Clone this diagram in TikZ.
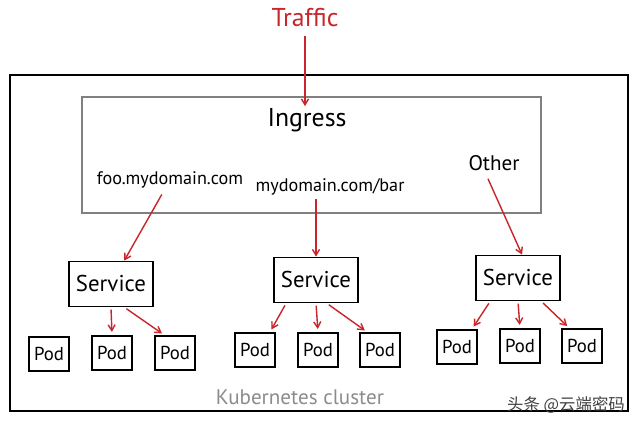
\documentclass[tikz,border=0pt]{standalone}
\usepackage{fontspec}
\setmainfont{PT Sans}
\newfontfamily\cjk{Noto Sans CJK SC}
\usetikzlibrary{calc}
\usetikzlibrary{arrows.meta}
\definecolor{trafficred}{RGB}{200,38,42}
\definecolor{labelgray}{RGB}{140,140,140}
\tikzset{
  box/.style={draw, line width=1.5pt, inner sep=0pt},
  svcbox/.style={box, minimum width=2.5cm, minimum height=1.35cm, font=\fontsize{19.5}{21}\selectfont},
  podbox/.style={box, minimum width=1.2cm, minimum height=1.0cm, font=\fontsize{16}{18}\selectfont},
  redarrow/.style={-{Straight Barb[length=5pt,width=6pt]}, line width=1.2pt, color=trafficred},
}

\begin{document}
\begin{tikzpicture}[x=0.03cm, y=-0.03cm]
\useasboundingbox (0, 0) rectangle (640, 426);
\fill [white] (0, 0) rectangle (640, 426);
\draw [line width=1.7pt] (10, 75) rectangle (628, 411);
\draw [line width=1.2pt, color=gray] (82, 97) rectangle (541, 213);

\node [font=\fontsize{22}{24}\selectfont, color=trafficred] (traffic) at (305, 18) {Traffic};
\node [font=\fontsize{22}{24}\selectfont] (ingress) at (307, 120) {Ingress};
\node [font=\fontsize{15.5}{17}\selectfont] (foo) at (170, 180) {foo.mydomain.com};
\node [font=\fontsize{15.5}{17}\selectfont] (bar) at (330, 187) {mydomain.com/bar};
\node [font=\fontsize{18}{20}\selectfont] (other) at (494, 163) {Other};
\node [font=\fontsize{18}{20}\selectfont, color=labelgray] (cluster) at (300, 397) {Kubernetes cluster};
\node [font=\cjk\fontsize{14}{16}\selectfont, color=black!75] (mark) at (566, 405) {头条 @云端密码};

\draw [redarrow, shorten <=4pt] (traffic) -- ($(ingress.north -| traffic)+(0, 2)$);

\node [svcbox] (svcA) at (111, 284) {Service};
\node [svcbox] (svcB) at (316, 280) {Service};
\node [svcbox] (svcC) at (518, 278) {Service};

\draw [redarrow, shorten <=2pt] (foo) -- (svcA);
\draw [redarrow] (bar.south -| svcB) -- (svcB);
\draw [redarrow] ($(other.south)+(-6, 4)$) -- ($(svcC.north)+(4, 0)$);

\node [podbox] (podA1) at (49, 354) {Pod};
\node [podbox] (podA2) at (112, 353) {Pod};
\node [podbox] (podA3) at (175, 353) {Pod};
\node [podbox] (podB1) at (255, 350) {Pod};
\node [podbox] (podB2) at (318, 350) {Pod};
\node [podbox] (podB3) at (380, 350) {Pod};
\node [podbox] (podC1) at (457, 347) {Pod};
\node [podbox] (podC2) at (520, 346) {Pod};
\node [podbox] (podC3) at (582, 346) {Pod};

\draw [redarrow, shorten <=2pt, shorten >=3pt] (svcA.south) -- (podA2.north);
\draw [redarrow, shorten <=2pt, shorten >=3pt] (svcA.-60) -- (podA3.120);

\draw [redarrow, shorten <=2pt, shorten >=3pt] (svcB.-142) -- (podB1.50);
\draw [redarrow, shorten <=2pt, shorten >=3pt] (svcB.south) -- (podB2.north);
\draw [redarrow, shorten <=2pt, shorten >=3pt] (svcB.-65) -- (podB3.125);

\draw [redarrow, shorten <=2pt, shorten >=3pt] (svcC.-140) -- (podC1.50);
\draw [redarrow, shorten <=2pt, shorten >=3pt] (svcC.south) -- (podC2.north);
\draw [redarrow, shorten <=2pt, shorten >=3pt] (svcC.-45) -- (podC3.125);
\end{tikzpicture}
\end{document}
